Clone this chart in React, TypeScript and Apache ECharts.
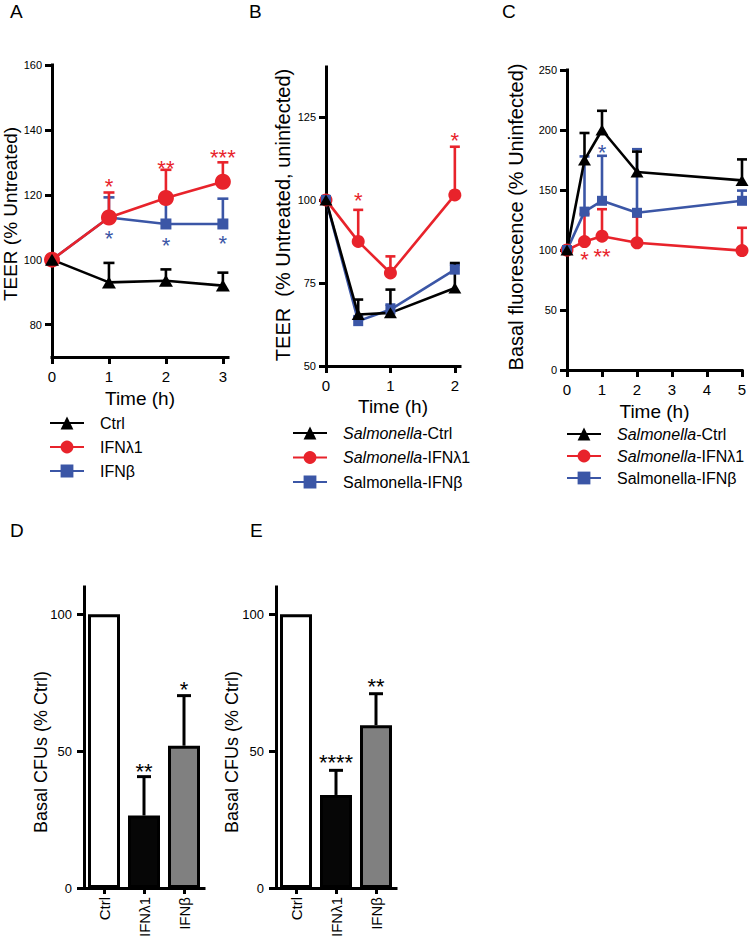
import React, { useEffect, useRef } from 'react';
import * as echarts from 'echarts';

const FONT = '"Liberation Sans", Arial, Helvetica, sans-serif';
const RED = '#e8232b';
const BLUE = '#3b56a6';
const BLACK = '#000000';

// ---------- Panel A ----------
const timesA = [0, 1, 2, 3];
const ctrlA = [100, 93, 93.5, 92];
const ctrlAErr = [0, 6, 3.5, 4];
const ifnlA = [100, 113, 119, 124];
const ifnlAErr = [0, 7.7, 8.7, 6];
const ifnbA = [100, 113, 111, 111];
const ifnbAErr = [0, 6.2, 8, 7.8];
const starsARed: [number, number, string][] = [[1, 124, '*'], [2, 129.5, '**'], [3, 133, '***']];
const starsABlue: [number, number, string][] = [[1, 108, '*'], [2, 106, '*'], [3, 106.5, '*']];
const xTicksA = [0, 1, 2, 3];
const yTicksA = [80, 100, 120, 140, 160];

// ---------- Panel B ----------
const timesB = [0, 0.5, 1, 2];
const ctrlB = [100, 65.5, 66, 73.5];
const ctrlBErr = [0, 4.5, 7, 7.5];
const ifnlB = [100, 87.5, 78, 101.5];
const ifnlBErr = [0, 9.5, 5, 14.5];
const ifnbB = [100, 63.5, 67, 79];
const ifnbBErr = [0, 1.5, 1.5, 1.5];
const starsBRed: [number, number, string][] = [[0.5, 101.4, '*'], [2, 119.3, '*']];
const xTicksB = [0, 1, 2];
const yTicksB = [50, 75, 100, 125];

// ---------- Panel C ----------
const timesC = [0, 0.5, 1, 2, 5];
const ctrlC = [100, 175, 200, 165, 158];
const ctrlCErr = [0, 22.5, 16, 17, 17.5];
const ifnlC = [100, 107, 111.5, 106, 99.5];
const ifnlCErr = [0, 23, 22.5, 22, 19];
const ifnbC = [100, 132, 141, 131, 141];
const ifnbCErr = [0, 46, 37.5, 53, 8.5];
const starsCBlue: [number, number, string][] = [[1, 185, '*']];
const starsCRed: [number, number, string][] = [[0.5, 95.8, '*'], [1, 98.6, '**']];
const xTicksC = [0, 1, 2, 3, 4, 5];
const yTicksC = [0, 50, 100, 150, 200, 250];

// ---------- Panels D, E ----------
const barCats = ['Ctrl', 'IFNλ1', 'IFNβ'];
const barColors = ['#ffffff', '#060606', '#808080'];
const valuesD = [100, 26.5, 52];
const errD = [0, 14.2, 18.3];
const starsD: [number, number, string][] = [[1, 44.3, '**'], [2, 74.3, '*']];
const valuesE = [100, 34, 59.5];
const errE = [0, 9, 11.5];
const starsE: [number, number, string][] = [[1, 47.6, '****'], [2, 75.4, '**']];
const yTicksBar = [0, 50, 100];

const legendA = ['Ctrl', 'IFNλ1', 'IFNβ'];
const legendSal = ['Salmonella-Ctrl', 'Salmonella-IFNλ1', 'Salmonella-IFNβ'];

function xy(times: number[], vals: number[]) {
  return times.map((t, i) => [t, vals[i]]);
}

function lineSeries(name: string, gi: number, times: number[], vals: number[], color: string, symbol: string, size: any) {
  return {
    type: 'line', name, xAxisIndex: gi, yAxisIndex: gi, data: xy(times, vals),
    symbol, symbolSize: size, showSymbol: true, clip: false, silent: true,
    lineStyle: { color, width: 2.6 }, itemStyle: { color, borderWidth: 0, opacity: 1 },
    emphasis: { disabled: true },
  };
}

function errSeries(gi: number, xs: number[], vals: number[], errs: number[], color: string, cap: number, width = 2.6) {
  return {
    type: 'custom', xAxisIndex: gi, yAxisIndex: gi, silent: true, clip: false,
    data: xs.map((t, i) => [t, vals[i], errs[i]]).filter((d) => d[2] > 0),
    encode: { x: 0, y: 1 },
    renderItem: (params: any, api: any) => {
      const x = api.value(0), y = api.value(1), e = api.value(2);
      const p0 = api.coord([x, y]);
      const p1 = api.coord([x, y + e]);
      const st = { stroke: color, lineWidth: width, fill: null };
      return {
        type: 'group',
        children: [
          { type: 'line', shape: { x1: p0[0], y1: p0[1], x2: p1[0], y2: p1[1] }, style: st },
          { type: 'line', shape: { x1: p1[0] - cap / 2, y1: p1[1], x2: p1[0] + cap / 2, y2: p1[1] }, style: st },
        ],
      };
    },
  };
}

function starSeries(gi: number, stars: [number, number, string][], color: string, size = 22) {
  return {
    type: 'custom', xAxisIndex: gi, yAxisIndex: gi, silent: true, clip: false,
    data: stars.map((s) => [s[0], s[1]]),
    encode: { x: 0, y: 1 },
    renderItem: (params: any, api: any) => {
      const p = api.coord([api.value(0), api.value(1)]);
      return {
        type: 'text', x: p[0], y: p[1] + size * 0.22,
        style: { text: stars[params.dataIndex][2], fill: color, fontSize: size, fontFamily: FONT, align: 'center', verticalAlign: 'middle' },
      };
    },
  };
}

const axisLine = { show: true, onZero: false, lineStyle: { color: BLACK, width: 3, cap: 'square' } };

function valX(gi: number, min: number, max: number, ticks: number[], nameGap: number) {
  return {
    type: 'value', gridIndex: gi, min, max,
    axisLine,
    axisTick: { show: true, length: 7, customValues: ticks, lineStyle: { color: BLACK, width: 3 } },
    axisLabel: { customValues: ticks, fontSize: 15, margin: 12, color: BLACK, fontFamily: FONT },
    splitLine: { show: false },
    name: 'Time (h)', nameLocation: 'middle', nameGap,
    nameTextStyle: { fontSize: 19, color: BLACK, fontFamily: FONT },
  };
}

function valY(gi: number, min: number, max: number, ticks: number[], fontSize = 11, margin = 10) {
  return {
    type: 'value', gridIndex: gi, min, max,
    axisLine,
    axisTick: { show: true, length: 7, customValues: ticks, lineStyle: { color: BLACK, width: 3 } },
    axisLabel: { customValues: ticks, fontSize, margin, color: BLACK, fontFamily: FONT },
    splitLine: { show: false },
  };
}

function catX(gi: number) {
  return {
    type: 'category', gridIndex: gi, data: barCats, boundaryGap: true,
    axisLine,
    axisTick: { show: true, length: 6, alignWithLabel: true, lineStyle: { color: BLACK, width: 3 } },
    axisLabel: { rotate: 90, fontSize: 15, margin: 9, color: BLACK, fontFamily: FONT },
    splitLine: { show: false },
  };
}

function barSeries(gi: number, vals: number[]) {
  return {
    type: 'bar', xAxisIndex: gi, yAxisIndex: gi, barWidth: 32, silent: true,
    data: vals.map((v, i) => ({ value: v, itemStyle: { color: barColors[i] } })),
    itemStyle: { borderColor: BLACK, borderWidth: 3 },
    emphasis: { disabled: true },
  };
}

function legendCfg(data: string[], left: number, top: number, gap: number) {
  return {
    data, left, top, orient: 'vertical', itemWidth: 34, itemHeight: 16, itemGap: gap, padding: 0,
    selectedMode: false,
    formatter: (name: string) =>
      name.startsWith('Salmonella') && name !== 'Salmonella-IFNβ' ? '{i|Salmonella}' + name.slice(10) : name,
    textStyle: {
      fontSize: 16, color: BLACK, fontFamily: FONT, padding: [0, 0, 0, 11], lineHeight: 16,
      rich: { i: { fontStyle: 'italic', fontSize: 16, color: BLACK, fontFamily: FONT, lineHeight: 16 } },
    },
  };
}

function panelLabel(text: string, x: number, y: number) {
  return { type: 'text', x, y, style: { text, fontSize: 19, fill: BLACK, fontFamily: FONT, align: 'left', verticalAlign: 'middle' } };
}

function yTitle(text: string, x: number, y: number, size: number) {
  return {
    type: 'text', x, y, rotation: Math.PI / 2,
    style: { text, fontSize: size, fill: BLACK, fontFamily: FONT, align: 'center', verticalAlign: 'middle' },
  };
}

export default function App() {
  const ref = useRef<HTMLDivElement>(null);
  useEffect(() => {
    document.body.style.margin = '0';
    if (!ref.current) return;
    const chart = echarts.init(ref.current, null, { renderer: 'svg' });
    const tri = 'triangle';
    const option: any = {
      animation: false,
      backgroundColor: '#ffffff',
      grid: [
        { left: 52, top: 65, width: 176, height: 292 },
        { left: 326, top: 67, width: 134, height: 299 },
        { left: 567, top: 70, width: 175, height: 300 },
        { left: 84, top: 587, width: 120, height: 301 },
        { left: 276, top: 587, width: 120, height: 301 },
      ],
      xAxis: [
        valX(0, 0, 3.09, xTicksA, 32),
        valX(1, 0, 2.08, xTicksB, 31),
        valX(2, 0, 5, xTicksC, 32),
        catX(3),
        catX(4),
      ],
      yAxis: [
        valY(0, 70, 160, yTicksA),
        valY(1, 50, 140, yTicksB),
        valY(2, 0, 250, yTicksC),
        valY(3, 0, 110, yTicksBar, 13, 12),
        valY(4, 0, 110, yTicksBar, 13, 12),
      ],
      legend: [
        legendCfg(legendA, 49, 415, 8),
        legendCfg(legendSal, 292, 425, 8.5),
        legendCfg(legendSal, 566, 426, 6),
      ],
      graphic: [
        panelLabel('A', 10, 11),
        panelLabel('B', 249, 11),
        panelLabel('C', 502, 11),
        panelLabel('D', 10, 530),
        panelLabel('E', 250, 530),
        yTitle('TEER (% Untreated)', 10, 214, 19),
        yTitle('TEER\u00a0 (% Untreated, uninfected)', 283, 215, 20),
        yTitle('Basal fluorescence (% Uninfected)', 516, 217, 20),
        yTitle('Basal CFUs (% Ctrl)', 41, 752, 18),
        yTitle('Basal CFUs (% Ctrl)', 232, 752, 18),
      ],
      series: [
        // A: blue, red, black
        errSeries(0, timesA, ifnbA, ifnbAErr, BLUE, 11),
        lineSeries('IFNβ', 0, timesA, ifnbA, BLUE, 'rect', 11),
        errSeries(0, timesA, ifnlA, ifnlAErr, RED, 11),
        lineSeries('IFNλ1', 0, timesA, ifnlA, RED, 'circle', 16),
        errSeries(0, timesA, ctrlA, ctrlAErr, BLACK, 11),
        lineSeries('Ctrl', 0, timesA, ctrlA, BLACK, tri, [14, 12]),
        starSeries(0, starsARed, RED),
        starSeries(0, starsABlue, BLUE),
        // B: red, blue, black
        errSeries(1, timesB, ifnlB, ifnlBErr, RED, 10),
        lineSeries('Salmonella-IFNλ1', 1, timesB, ifnlB, RED, 'circle', 13),
        errSeries(1, timesB, ifnbB, ifnbBErr, BLUE, 10),
        lineSeries('Salmonella-IFNβ', 1, timesB, ifnbB, BLUE, 'rect', 10),
        errSeries(1, timesB, ctrlB, ctrlBErr, BLACK, 10),
        lineSeries('Salmonella-Ctrl', 1, timesB, ctrlB, BLACK, tri, [13, 11]),
        starSeries(1, starsBRed, RED),
        // C: red, blue, black
        errSeries(2, timesC, ifnlC, ifnlCErr, RED, 10),
        lineSeries('Salmonella-IFNλ1', 2, timesC, ifnlC, RED, 'circle', 13),
        errSeries(2, timesC, ifnbC, ifnbCErr, BLUE, 10),
        lineSeries('Salmonella-IFNβ', 2, timesC, ifnbC, BLUE, 'rect', 10),
        errSeries(2, timesC, ctrlC, ctrlCErr, BLACK, 10),
        lineSeries('Salmonella-Ctrl', 2, timesC, ctrlC, BLACK, tri, [13, 11]),
        starSeries(2, starsCBlue, BLUE),
        starSeries(2, starsCRed, RED),
        // D
        errSeries(3, [0, 1, 2], valuesD, errD, BLACK, 14, 3),
        barSeries(3, valuesD),
        starSeries(3, starsD, BLACK),
        // E
        errSeries(4, [0, 1, 2], valuesE, errE, BLACK, 14, 3),
        barSeries(4, valuesE),
        starSeries(4, starsE, BLACK),
      ],
    };
    chart.setOption(option);
    return () => chart.dispose();
  }, []);
  return <div ref={ref} style={{ width: 750, height: 942 }} />;
}
